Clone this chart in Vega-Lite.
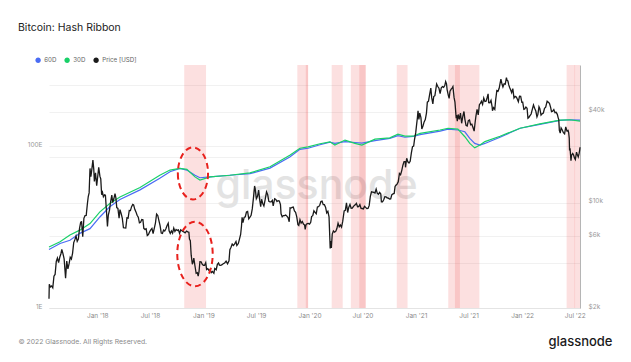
{
  "$schema": "https://vega.github.io/schema/vega-lite/v6.json",
  "width": 531,
  "height": 243,
  "autosize": {"type": "none"},
  "padding": {"left": 49, "top": 65, "right": 51, "bottom": 54},
  "background": "white",
  "config": {
    "view": {"stroke": null},
    "font": "Inter",
    "legend": {"padding": 0}
  },
  "title": {
    "text": "Bitcoin: Hash Ribbon",
    "anchor": "start",
    "frame": "group",
    "dx": -31,
    "dy": 14,
    "offset": 30,
    "baseline": "alphabetic",
    "fontSize": 10.5,
    "fontWeight": "normal",
    "color": "#222",
    "font": "Inter"
  },
  "datasets": {
    "bands": [
      {"date": "2018-10-27", "date_end": "2019-01-10"},
      {"date": "2019-11-20", "date_end": "2019-12-27"},
      {"date": "2019-12-19", "date_end": "2019-12-27"},
      {"date": "2020-03-17", "date_end": "2020-04-24"},
      {"date": "2020-05-22", "date_end": "2020-07-12"},
      {"date": "2020-06-20", "date_end": "2020-07-12"},
      {"date": "2020-10-27", "date_end": "2020-12-03"},
      {"date": "2021-04-22", "date_end": "2021-08-07"},
      {"date": "2021-05-15", "date_end": "2021-06-01"},
      {"date": "2022-06-03", "date_end": "2022-07-19"},
      {"date": "2022-06-30", "date_end": "2022-07-02"}
    ],
    "hash": [
      {"date": "2017-07-19", "series": "60D", "hash": 5.3},
      {"date": "2017-08-26", "series": "60D", "hash": 6.3},
      {"date": "2017-09-29", "series": "60D", "hash": 6.9},
      {"date": "2017-11-02", "series": "60D", "hash": 8.4},
      {"date": "2017-12-07", "series": "60D", "hash": 9.6},
      {"date": "2018-01-10", "series": "60D", "hash": 13.4},
      {"date": "2018-02-13", "series": "60D", "hash": 17.9},
      {"date": "2018-03-20", "series": "60D", "hash": 22},
      {"date": "2018-05-28", "series": "60D", "hash": 29},
      {"date": "2018-08-04", "series": "60D", "hash": 40.3},
      {"date": "2018-09-08", "series": "60D", "hash": 48.7},
      {"date": "2018-10-12", "series": "60D", "hash": 53.5},
      {"date": "2018-11-05", "series": "60D", "hash": 51},
      {"date": "2018-12-03", "series": "60D", "hash": 44},
      {"date": "2018-12-20", "series": "60D", "hash": 41},
      {"date": "2019-01-24", "series": "60D", "hash": 42},
      {"date": "2019-04-02", "series": "60D", "hash": 44},
      {"date": "2019-06-10", "series": "60D", "hash": 46},
      {"date": "2019-08-18", "series": "60D", "hash": 54},
      {"date": "2019-10-25", "series": "60D", "hash": 74},
      {"date": "2019-11-29", "series": "60D", "hash": 92},
      {"date": "2019-12-27", "series": "60D", "hash": 95},
      {"date": "2020-02-06", "series": "60D", "hash": 105},
      {"date": "2020-03-11", "series": "60D", "hash": 113},
      {"date": "2020-03-28", "series": "60D", "hash": 109},
      {"date": "2020-05-02", "series": "60D", "hash": 115},
      {"date": "2020-06-05", "series": "60D", "hash": 112},
      {"date": "2020-06-29", "series": "60D", "hash": 110},
      {"date": "2020-08-13", "series": "60D", "hash": 118},
      {"date": "2020-10-03", "series": "60D", "hash": 126},
      {"date": "2020-10-31", "series": "60D", "hash": 136},
      {"date": "2020-11-24", "series": "60D", "hash": 130},
      {"date": "2020-12-22", "series": "60D", "hash": 133},
      {"date": "2021-01-15", "series": "60D", "hash": 140},
      {"date": "2021-03-25", "series": "60D", "hash": 155},
      {"date": "2021-04-21", "series": "60D", "hash": 164},
      {"date": "2021-05-25", "series": "60D", "hash": 160},
      {"date": "2021-06-18", "series": "60D", "hash": 152},
      {"date": "2021-07-05", "series": "60D", "hash": 126},
      {"date": "2021-07-22", "series": "60D", "hash": 109},
      {"date": "2021-08-09", "series": "60D", "hash": 104},
      {"date": "2021-08-26", "series": "60D", "hash": 109},
      {"date": "2021-10-17", "series": "60D", "hash": 130},
      {"date": "2021-12-25", "series": "60D", "hash": 168},
      {"date": "2022-03-03", "series": "60D", "hash": 188},
      {"date": "2022-05-11", "series": "60D", "hash": 210},
      {"date": "2022-06-14", "series": "60D", "hash": 214},
      {"date": "2022-07-19", "series": "60D", "hash": 212},
      {"date": "2017-07-19", "series": "30D", "hash": 5.7},
      {"date": "2017-08-26", "series": "30D", "hash": 6.6},
      {"date": "2017-09-29", "series": "30D", "hash": 8.0},
      {"date": "2017-11-02", "series": "30D", "hash": 9.2},
      {"date": "2017-12-07", "series": "30D", "hash": 11.1},
      {"date": "2018-01-10", "series": "30D", "hash": 15.5},
      {"date": "2018-02-13", "series": "30D", "hash": 19.7},
      {"date": "2018-03-20", "series": "30D", "hash": 23.7},
      {"date": "2018-05-28", "series": "30D", "hash": 31},
      {"date": "2018-08-04", "series": "30D", "hash": 44},
      {"date": "2018-09-08", "series": "30D", "hash": 51},
      {"date": "2018-10-12", "series": "30D", "hash": 53.5},
      {"date": "2018-11-05", "series": "30D", "hash": 52},
      {"date": "2018-12-03", "series": "30D", "hash": 42},
      {"date": "2018-12-20", "series": "30D", "hash": 38.3},
      {"date": "2019-01-24", "series": "30D", "hash": 42},
      {"date": "2019-04-02", "series": "30D", "hash": 44},
      {"date": "2019-06-10", "series": "30D", "hash": 47},
      {"date": "2019-08-18", "series": "30D", "hash": 56},
      {"date": "2019-10-25", "series": "30D", "hash": 78},
      {"date": "2019-11-29", "series": "30D", "hash": 95},
      {"date": "2019-12-27", "series": "30D", "hash": 99},
      {"date": "2020-02-06", "series": "30D", "hash": 108},
      {"date": "2020-03-11", "series": "30D", "hash": 114},
      {"date": "2020-03-28", "series": "30D", "hash": 104},
      {"date": "2020-05-02", "series": "30D", "hash": 120},
      {"date": "2020-06-05", "series": "30D", "hash": 109},
      {"date": "2020-06-29", "series": "30D", "hash": 104},
      {"date": "2020-08-13", "series": "30D", "hash": 123},
      {"date": "2020-10-03", "series": "30D", "hash": 128},
      {"date": "2020-10-31", "series": "30D", "hash": 142},
      {"date": "2020-11-24", "series": "30D", "hash": 134},
      {"date": "2020-12-22", "series": "30D", "hash": 134},
      {"date": "2021-01-15", "series": "30D", "hash": 145},
      {"date": "2021-03-25", "series": "30D", "hash": 160},
      {"date": "2021-04-21", "series": "30D", "hash": 168},
      {"date": "2021-05-25", "series": "30D", "hash": 164},
      {"date": "2021-06-18", "series": "30D", "hash": 132},
      {"date": "2021-07-05", "series": "30D", "hash": 109},
      {"date": "2021-07-22", "series": "30D", "hash": 96},
      {"date": "2021-08-09", "series": "30D", "hash": 104},
      {"date": "2021-08-26", "series": "30D", "hash": 115},
      {"date": "2021-10-17", "series": "30D", "hash": 134},
      {"date": "2021-12-25", "series": "30D", "hash": 168},
      {"date": "2022-03-03", "series": "30D", "hash": 190},
      {"date": "2022-05-11", "series": "30D", "hash": 212},
      {"date": "2022-06-14", "series": "30D", "hash": 214},
      {"date": "2022-07-19", "series": "30D", "hash": 206}
    ],
    "price": [
      {"date":"2017-07-19","price":2300},{"date":"2017-07-20","price":2870},{"date":"2017-07-24","price":2760},{"date":"2017-07-28","price":2800},
      {"date":"2017-08-01","price":2720},{"date":"2017-08-05","price":3250},{"date":"2017-08-09","price":3340},{"date":"2017-08-13","price":4070},
      {"date":"2017-08-17","price":4290},{"date":"2017-08-21","price":4000},{"date":"2017-08-25","price":4340},{"date":"2017-08-29","price":4580},
      {"date":"2017-09-01","price":4890},{"date":"2017-09-05","price":4590},{"date":"2017-09-09","price":4230},{"date":"2017-09-14","price":3150},
      {"date":"2017-09-18","price":4090},{"date":"2017-09-22","price":3630},{"date":"2017-09-26","price":3920},{"date":"2017-09-30","price":4340},
      {"date":"2017-10-04","price":4220},{"date":"2017-10-08","price":4610},{"date":"2017-10-12","price":5430},{"date":"2017-10-16","price":5680},
      {"date":"2017-10-20","price":6010},{"date":"2017-10-24","price":5530},{"date":"2017-10-28","price":5730},{"date":"2017-11-01","price":6740},
      {"date":"2017-11-05","price":7410},{"date":"2017-11-08","price":7460},{"date":"2017-11-12","price":5950},{"date":"2017-11-16","price":7870},
      {"date":"2017-11-20","price":8200},{"date":"2017-11-24","price":8230},{"date":"2017-11-28","price":9820},{"date":"2017-12-01","price":10980},
      {"date":"2017-12-04","price":11600},{"date":"2017-12-07","price":16860},{"date":"2017-12-10","price":14870},{"date":"2017-12-13","price":16410},
      {"date":"2017-12-17","price":19140},{"date":"2017-12-20","price":16620},{"date":"2017-12-22","price":13830},{"date":"2017-12-26","price":15760},
      {"date":"2017-12-30","price":12950},{"date":"2018-01-03","price":15200},{"date":"2018-01-06","price":17170},{"date":"2018-01-10","price":14970},
      {"date":"2018-01-13","price":14360},{"date":"2018-01-16","price":11280},{"date":"2018-01-19","price":11680},{"date":"2018-01-22","price":10930},
      {"date":"2018-01-26","price":11260},{"date":"2018-01-29","price":11210},{"date":"2018-02-01","price":9170},{"date":"2018-02-05","price":6950},
      {"date":"2018-02-08","price":8270},{"date":"2018-02-12","price":8930},{"date":"2018-02-16","price":10170},{"date":"2018-02-20","price":11200},
      {"date":"2018-02-23","price":10010},{"date":"2018-02-27","price":10600},{"date":"2018-03-03","price":11460},{"date":"2018-03-06","price":10760},
      {"date":"2018-03-09","price":9270},{"date":"2018-03-13","price":9150},{"date":"2018-03-17","price":7880},{"date":"2018-03-20","price":8980},
      {"date":"2018-03-24","price":8470},{"date":"2018-03-28","price":7880},{"date":"2018-04-01","price":6810},{"date":"2018-04-05","price":6790},
      {"date":"2018-04-09","price":6780},{"date":"2018-04-13","price":7930},{"date":"2018-04-17","price":7880},{"date":"2018-04-21","price":8880},
      {"date":"2018-04-25","price":8850},{"date":"2018-04-29","price":9400},{"date":"2018-05-03","price":9730},{"date":"2018-05-06","price":9650},
      {"date":"2018-05-10","price":9020},{"date":"2018-05-14","price":8680},{"date":"2018-05-18","price":8240},{"date":"2018-05-22","price":8000},
      {"date":"2018-05-26","price":7350},{"date":"2018-05-30","price":7400},{"date":"2018-06-03","price":7720},{"date":"2018-06-07","price":7690},
      {"date":"2018-06-10","price":6750},{"date":"2018-06-14","price":6640},{"date":"2018-06-18","price":6700},{"date":"2018-06-22","price":6050},
      {"date":"2018-06-26","price":6140},{"date":"2018-06-30","price":6400},{"date":"2018-07-04","price":6600},{"date":"2018-07-08","price":6750},
      {"date":"2018-07-12","price":6240},{"date":"2018-07-16","price":6740},{"date":"2018-07-20","price":7320},{"date":"2018-07-24","price":8400},
      {"date":"2018-07-28","price":8220},{"date":"2018-08-01","price":7600},{"date":"2018-08-05","price":7030},{"date":"2018-08-09","price":6280},
      {"date":"2018-08-13","price":6250},{"date":"2018-08-17","price":6580},{"date":"2018-08-21","price":6480},{"date":"2018-08-25","price":6700},
      {"date":"2018-08-29","price":7050},{"date":"2018-09-02","price":7300},{"date":"2018-09-05","price":6500},{"date":"2018-09-09","price":6240},
      {"date":"2018-09-13","price":6490},{"date":"2018-09-17","price":6270},{"date":"2018-09-21","price":6770},{"date":"2018-09-25","price":6430},
      {"date":"2018-09-29","price":6630},{"date":"2018-10-03","price":6540},{"date":"2018-10-07","price":6600},{"date":"2018-10-11","price":6250},
      {"date":"2018-10-15","price":6600},{"date":"2018-10-20","price":6480},{"date":"2018-10-25","price":6400},{"date":"2018-10-30","price":6300},
      {"date":"2018-11-04","price":6480},{"date":"2018-11-08","price":6400},{"date":"2018-11-12","price":6370},{"date":"2018-11-14","price":5740},
      {"date":"2018-11-17","price":5600},{"date":"2018-11-19","price":4800},{"date":"2018-11-20","price":4480},{"date":"2018-11-24","price":3900},
      {"date":"2018-11-26","price":4000},{"date":"2018-11-29","price":4280},{"date":"2018-12-03","price":3800},{"date":"2018-12-07","price":3400},
      {"date":"2018-12-11","price":3430},{"date":"2018-12-14","price":3250},{"date":"2018-12-17","price":3500},{"date":"2018-12-20","price":4060},
      {"date":"2018-12-24","price":4050},{"date":"2018-12-28","price":3900},{"date":"2019-01-01","price":3840},{"date":"2019-01-05","price":3840},
      {"date":"2019-01-09","price":4000},{"date":"2019-01-12","price":3600},{"date":"2019-01-16","price":3650},{"date":"2019-01-20","price":3550},
      {"date":"2019-01-24","price":3590},{"date":"2019-01-28","price":3430},{"date":"2019-02-01","price":3490},{"date":"2019-02-06","price":3400},
      {"date":"2019-02-09","price":3660},{"date":"2019-02-14","price":3590},{"date":"2019-02-18","price":3900},{"date":"2019-02-22","price":3980},
      {"date":"2019-02-25","price":3850},{"date":"2019-03-01","price":3840},{"date":"2019-03-05","price":3860},{"date":"2019-03-10","price":3930},
      {"date":"2019-03-15","price":3980},{"date":"2019-03-20","price":4090},{"date":"2019-03-25","price":3930},{"date":"2019-03-30","price":4110},
      {"date":"2019-04-02","price":4880},{"date":"2019-04-06","price":5060},{"date":"2019-04-10","price":5310},{"date":"2019-04-14","price":5200},
      {"date":"2019-04-18","price":5310},{"date":"2019-04-23","price":5520},{"date":"2019-04-26","price":5200},{"date":"2019-05-01","price":5350},
      {"date":"2019-05-05","price":5730},{"date":"2019-05-09","price":6150},{"date":"2019-05-12","price":6990},{"date":"2019-05-14","price":7990},
      {"date":"2019-05-17","price":7360},{"date":"2019-05-21","price":7980},{"date":"2019-05-25","price":8060},{"date":"2019-05-29","price":8660},
      {"date":"2019-06-02","price":8740},{"date":"2019-06-06","price":7800},{"date":"2019-06-10","price":8000},{"date":"2019-06-14","price":8230},
      {"date":"2019-06-18","price":9080},{"date":"2019-06-22","price":10700},{"date":"2019-06-26","price":12900},{"date":"2019-06-28","price":12400},
      {"date":"2019-07-02","price":10600},{"date":"2019-07-06","price":11000},{"date":"2019-07-10","price":12100},{"date":"2019-07-14","price":10260},
      {"date":"2019-07-17","price":9400},{"date":"2019-07-20","price":10530},{"date":"2019-07-24","price":9880},{"date":"2019-07-28","price":9500},
      {"date":"2019-08-01","price":10400},{"date":"2019-08-06","price":11800},{"date":"2019-08-10","price":11300},{"date":"2019-08-14","price":10200},
      {"date":"2019-08-18","price":10100},{"date":"2019-08-22","price":10100},{"date":"2019-08-26","price":10350},{"date":"2019-08-29","price":9500},
      {"date":"2019-09-03","price":10610},{"date":"2019-09-07","price":10500},{"date":"2019-09-11","price":10160},{"date":"2019-09-15","price":10310},
      {"date":"2019-09-19","price":10250},{"date":"2019-09-23","price":9700},{"date":"2019-09-25","price":8430},{"date":"2019-09-29","price":8060},
      {"date":"2019-10-03","price":8200},{"date":"2019-10-07","price":8190},{"date":"2019-10-11","price":8270},{"date":"2019-10-15","price":8140},
      {"date":"2019-10-19","price":7950},{"date":"2019-10-23","price":7470},{"date":"2019-10-26","price":9230},{"date":"2019-10-29","price":9200},
      {"date":"2019-11-02","price":9300},{"date":"2019-11-06","price":9340},{"date":"2019-11-10","price":8800},{"date":"2019-11-14","price":8620},
      {"date":"2019-11-18","price":8050},{"date":"2019-11-22","price":7150},{"date":"2019-11-25","price":7050},{"date":"2019-11-29","price":7700},
      {"date":"2019-12-03","price":7320},{"date":"2019-12-07","price":7500},{"date":"2019-12-11","price":7200},{"date":"2019-12-15","price":7100},
      {"date":"2019-12-17","price":6640},{"date":"2019-12-20","price":7150},{"date":"2019-12-24","price":7250},{"date":"2019-12-28","price":7280},
      {"date":"2020-01-01","price":7200},{"date":"2020-01-05","price":7400},{"date":"2020-01-08","price":8080},{"date":"2020-01-12","price":8190},
      {"date":"2020-01-16","price":8820},{"date":"2020-01-20","price":8620},{"date":"2020-01-24","price":8430},{"date":"2020-01-28","price":9360},
      {"date":"2020-02-01","price":9390},{"date":"2020-02-05","price":9600},{"date":"2020-02-09","price":10160},{"date":"2020-02-13","price":10240},
      {"date":"2020-02-17","price":9700},{"date":"2020-02-21","price":9690},{"date":"2020-02-25","price":9320},{"date":"2020-02-29","price":8540},
      {"date":"2020-03-04","price":8760},{"date":"2020-03-08","price":8040},{"date":"2020-03-12","price":4970},{"date":"2020-03-13","price":5560},
      {"date":"2020-03-16","price":5000},{"date":"2020-03-19","price":6190},{"date":"2020-03-23","price":6490},{"date":"2020-03-27","price":6370},
      {"date":"2020-03-31","price":6440},{"date":"2020-04-04","price":6730},{"date":"2020-04-08","price":7300},{"date":"2020-04-12","price":6910},
      {"date":"2020-04-16","price":7100},{"date":"2020-04-20","price":6880},{"date":"2020-04-24","price":7500},{"date":"2020-04-29","price":8800},
      {"date":"2020-05-03","price":8900},{"date":"2020-05-07","price":9950},{"date":"2020-05-11","price":8600},{"date":"2020-05-15","price":9320},
      {"date":"2020-05-19","price":9730},{"date":"2020-05-23","price":9180},{"date":"2020-05-27","price":9200},{"date":"2020-05-31","price":9450},
      {"date":"2020-06-02","price":9520},{"date":"2020-06-06","price":9670},{"date":"2020-06-10","price":9890},{"date":"2020-06-14","price":9390},
      {"date":"2020-06-18","price":9410},{"date":"2020-06-22","price":9690},{"date":"2020-06-26","price":9150},{"date":"2020-06-30","price":9140},
      {"date":"2020-07-04","price":9090},{"date":"2020-07-08","price":9440},{"date":"2020-07-12","price":9300},{"date":"2020-07-16","price":9130},
      {"date":"2020-07-20","price":9160},{"date":"2020-07-24","price":9550},{"date":"2020-07-28","price":10990},{"date":"2020-08-01","price":11800},
      {"date":"2020-08-05","price":11750},{"date":"2020-08-09","price":11680},{"date":"2020-08-13","price":11580},{"date":"2020-08-17","price":12290},
      {"date":"2020-08-21","price":11520},{"date":"2020-08-25","price":11370},{"date":"2020-08-29","price":11680},{"date":"2020-09-02","price":11400},
      {"date":"2020-09-04","price":10130},{"date":"2020-09-08","price":10130},{"date":"2020-09-12","price":10440},{"date":"2020-09-16","price":10950},
      {"date":"2020-09-20","price":10920},{"date":"2020-09-24","price":10750},{"date":"2020-09-28","price":10700},{"date":"2020-10-02","price":10570},
      {"date":"2020-10-06","price":10600},{"date":"2020-10-10","price":11300},{"date":"2020-10-14","price":11430},{"date":"2020-10-18","price":11500},
      {"date":"2020-10-21","price":12800},{"date":"2020-10-24","price":13030},{"date":"2020-10-28","price":13270},{"date":"2020-11-01","price":13740},
      {"date":"2020-11-05","price":15590},{"date":"2020-11-09","price":15300},{"date":"2020-11-13","price":16300},{"date":"2020-11-17","price":17700},
      {"date":"2020-11-21","price":18700},{"date":"2020-11-25","price":18730},{"date":"2020-11-26","price":17150},{"date":"2020-11-30","price":19700},
      {"date":"2020-12-04","price":18650},{"date":"2020-12-08","price":18320},{"date":"2020-12-12","price":18800},{"date":"2020-12-16","price":21300},
      {"date":"2020-12-20","price":23480},{"date":"2020-12-24","price":23710},{"date":"2020-12-27","price":26280},{"date":"2020-12-31","price":28990},
      {"date":"2021-01-03","price":32780},{"date":"2021-01-06","price":36770},{"date":"2021-01-08","price":40580},{"date":"2021-01-11","price":35570},
      {"date":"2021-01-14","price":39190},{"date":"2021-01-18","price":36640},{"date":"2021-01-21","price":30830},{"date":"2021-01-25","price":32260},
      {"date":"2021-01-29","price":34320},{"date":"2021-02-02","price":35500},{"date":"2021-02-06","price":39270},{"date":"2021-02-09","price":46370},
      {"date":"2021-02-13","price":47100},{"date":"2021-02-17","price":52150},{"date":"2021-02-21","price":57500},{"date":"2021-02-24","price":49700},
      {"date":"2021-02-28","price":45140},{"date":"2021-03-03","price":50540},{"date":"2021-03-07","price":51200},{"date":"2021-03-10","price":55960},
      {"date":"2021-03-13","price":61190},{"date":"2021-03-17","price":58900},{"date":"2021-03-21","price":57350},{"date":"2021-03-25","price":52800},
      {"date":"2021-03-29","price":57750},{"date":"2021-04-02","price":58800},{"date":"2021-04-06","price":58100},{"date":"2021-04-10","price":59790},
      {"date":"2021-04-13","price":63500},{"date":"2021-04-16","price":61340},{"date":"2021-04-18","price":56200},{"date":"2021-04-22","price":51700},
      {"date":"2021-04-25","price":49100},{"date":"2021-04-28","price":54800},{"date":"2021-05-02","price":56600},{"date":"2021-05-05","price":57480},
      {"date":"2021-05-08","price":58800},{"date":"2021-05-12","price":49700},{"date":"2021-05-15","price":46400},{"date":"2021-05-19","price":37000},
      {"date":"2021-05-21","price":37330},{"date":"2021-05-23","price":34700},{"date":"2021-05-26","price":38400},{"date":"2021-05-30","price":35700},
      {"date":"2021-06-03","price":39200},{"date":"2021-06-07","price":33580},{"date":"2021-06-11","price":37340},{"date":"2021-06-15","price":40200},
      {"date":"2021-06-18","price":35800},{"date":"2021-06-22","price":32500},{"date":"2021-06-26","price":32200},{"date":"2021-06-30","price":35000},
      {"date":"2021-07-04","price":35300},{"date":"2021-07-08","price":32800},{"date":"2021-07-12","price":33100},{"date":"2021-07-16","price":31500},
      {"date":"2021-07-20","price":29790},{"date":"2021-07-23","price":33600},{"date":"2021-07-26","price":37300},{"date":"2021-07-30","price":41500},
      {"date":"2021-08-03","price":38150},{"date":"2021-08-07","price":44600},{"date":"2021-08-11","price":45600},{"date":"2021-08-14","price":47000},
      {"date":"2021-08-18","price":44800},{"date":"2021-08-22","price":49300},{"date":"2021-08-26","price":46800},{"date":"2021-08-30","price":47000},
      {"date":"2021-09-03","price":50000},{"date":"2021-09-06","price":52700},{"date":"2021-09-08","price":46100},{"date":"2021-09-12","price":46000},
      {"date":"2021-09-16","price":47700},{"date":"2021-09-20","price":43000},{"date":"2021-09-21","price":40700},{"date":"2021-09-25","price":42700},
      {"date":"2021-09-29","price":41600},{"date":"2021-10-02","price":48000},{"date":"2021-10-06","price":55300},{"date":"2021-10-10","price":54700},
      {"date":"2021-10-14","price":57300},{"date":"2021-10-17","price":61500},{"date":"2021-10-20","price":65990},{"date":"2021-10-24","price":60900},
      {"date":"2021-10-27","price":58400},{"date":"2021-10-31","price":61300},{"date":"2021-11-04","price":61000},{"date":"2021-11-08","price":67550},
      {"date":"2021-11-10","price":64950},{"date":"2021-11-13","price":64150},{"date":"2021-11-16","price":60350},{"date":"2021-11-19","price":58100},
      {"date":"2021-11-22","price":56300},{"date":"2021-11-26","price":53600},{"date":"2021-11-30","price":57000},{"date":"2021-12-04","price":49400},
      {"date":"2021-12-08","price":50600},{"date":"2021-12-12","price":50100},{"date":"2021-12-15","price":48900},{"date":"2021-12-19","price":46700},
      {"date":"2021-12-23","price":50800},{"date":"2021-12-27","price":50700},{"date":"2021-12-31","price":46300},{"date":"2022-01-03","price":46400},
      {"date":"2022-01-07","price":41600},{"date":"2022-01-10","price":41800},{"date":"2022-01-14","price":43100},{"date":"2022-01-18","price":42300},
      {"date":"2022-01-21","price":36300},{"date":"2022-01-24","price":36700},{"date":"2022-01-28","price":37700},{"date":"2022-02-01","price":38700},
      {"date":"2022-02-05","price":41500},{"date":"2022-02-09","price":44400},{"date":"2022-02-13","price":42200},{"date":"2022-02-17","price":40500},
      {"date":"2022-02-21","price":37000},{"date":"2022-02-24","price":38300},{"date":"2022-02-28","price":43200},{"date":"2022-03-03","price":42000},
      {"date":"2022-03-07","price":38100},{"date":"2022-03-11","price":38800},{"date":"2022-03-15","price":39300},{"date":"2022-03-19","price":42200},
      {"date":"2022-03-23","price":42900},{"date":"2022-03-28","price":47100},{"date":"2022-04-01","price":46300},{"date":"2022-04-05","price":45500},
      {"date":"2022-04-09","price":42800},{"date":"2022-04-12","price":40100},{"date":"2022-04-16","price":40400},{"date":"2022-04-20","price":41400},
      {"date":"2022-04-24","price":39500},{"date":"2022-04-28","price":39700},{"date":"2022-05-02","price":38500},{"date":"2022-05-05","price":36500},
      {"date":"2022-05-07","price":35500},{"date":"2022-05-09","price":30100},{"date":"2022-05-12","price":28900},{"date":"2022-05-15","price":31300},
      {"date":"2022-05-19","price":30300},{"date":"2022-05-23","price":29100},{"date":"2022-05-27","price":28600},{"date":"2022-05-31","price":31800},
      {"date":"2022-06-04","price":29900},{"date":"2022-06-08","price":30100},{"date":"2022-06-10","price":29100},{"date":"2022-06-12","price":26800},
      {"date":"2022-06-13","price":22500},{"date":"2022-06-15","price":22600},{"date":"2022-06-18","price":19000},{"date":"2022-06-20","price":20600},
      {"date":"2022-06-24","price":21200},{"date":"2022-06-27","price":20700},{"date":"2022-06-30","price":19800},{"date":"2022-07-03","price":19300},
      {"date":"2022-07-07","price":21600},{"date":"2022-07-10","price":20800},{"date":"2022-07-13","price":20100},{"date":"2022-07-16","price":21200},
      {"date":"2022-07-18","price":22400},{"date":"2022-07-19","price":23300}
    ],
    "mark1": [{"date": "2018-11-26", "hash": 46.4}],
    "mark2": [{"date": "2018-12-03", "price": 4560}]
  },
  "encoding": {
    "x": {
      "field": "date",
      "type": "temporal",
      "scale": {"domain": [{"year": 2017, "month": 7, "date": 19, "utc": true}, {"year": 2022, "month": 7, "date": 19, "utc": true}], "nice": false},
      "axis": {
        "values": [
          {"year": 2018, "month": 1, "date": 1, "utc": true},
          {"year": 2018, "month": 7, "date": 1, "utc": true},
          {"year": 2019, "month": 1, "date": 1, "utc": true},
          {"year": 2019, "month": 7, "date": 1, "utc": true},
          {"year": 2020, "month": 1, "date": 1, "utc": true},
          {"year": 2020, "month": 7, "date": 1, "utc": true},
          {"year": 2021, "month": 1, "date": 1, "utc": true},
          {"year": 2021, "month": 7, "date": 1, "utc": true},
          {"year": 2022, "month": 1, "date": 1, "utc": true},
          {"year": 2022, "month": 7, "date": 1, "utc": true}
        ],
        "labelExpr": "utcFormat(datum.value, \"%b '%y\")",
        "labelFontSize": 6.5,
        "labelColor": "#8a8a8a",
        "labelPadding": 4,
        "labelFlush": false,
        "ticks": false,
        "grid": false,
        "domainColor": "#e4e4e4",
        "title": "© 2022 Glassnode. All Rights Reserved.",
        "titleX": -31,
        "titleY": 35,
        "titleAlign": "left",
        "titleBaseline": "alphabetic",
        "titleFontSize": 6.8,
        "titleFontWeight": "normal",
        "titleColor": "#8a8a8a"
      }
    }
  },
  "layer": [
    {
      "data": {"name": "bands"},
      "mark": {"type": "rect", "color": "#f04848", "opacity": 0.17},
      "encoding": {"x2": {"field": "date_end"}}
    },
    {
      "layer": [
        {
          "data": {"name": "hash"},
          "mark": {"type": "line", "strokeWidth": 1.2},
          "encoding": {
            "y": {
              "field": "hash",
              "type": "quantitative",
              "scale": {"type": "log", "domain": [1, 1020], "nice": false},
              "axis": {
                "orient": "left",
                "values": [1, 100],
                "labelExpr": "datum.value + 'E'",
                "labelFontSize": 6.5,
                "labelColor": "#999",
                "labelPadding": 7,
                "labelBaseline": "alphabetic",
                "ticks": false,
                "domain": false,
                "grid": true,
                "gridColor": "#f1f1f1",
                "title": "glassnode",
                "titleAngle": 0,
                "titleX": 267,
                "titleY": 133,
                "titleAlign": "center",
                "titleBaseline": "alphabetic",
                "titleFontSize": 41,
                "titleFontWeight": 500,
                "titleColor": "#e3e3e3"
              }
            },
            "color": {
              "field": "series",
              "type": "nominal",
              "scale": {"domain": ["60D", "30D", "Price [USD]"], "range": ["#4a6cf4", "#18d068", "#1a1a1a"]},
              "legend": {
                "orient": "none",
                "legendX": -14,
                "legendY": -8,
                "direction": "horizontal",
                "title": null,
                "symbolType": "circle",
                "symbolSize": 8,
                "symbolStrokeWidth": 2.6,
                "labelFontSize": 6.2,
                "labelColor": "#666",
                "labelOffset": 3,
                "columnPadding": 3
              }
            }
          }
        },
        {
          "data": {"name": "mark1"},
          "mark": {
            "type": "point",
            "shape": "M -0.58 0 A 0.58 1 0 1 0 0.58 0 A 0.58 1 0 1 0 -0.58 0 Z",
            "size": 2704,
            "filled": false,
            "stroke": "#e8211d",
            "strokeWidth": 2,
            "strokeDash": [6, 4],
            "opacity": 1
          },
          "encoding": {"y": {"field": "hash", "type": "quantitative"}}
        }
      ]
    },
    {
      "layer": [
        {
          "data": {"name": "price"},
          "mark": {"type": "line", "strokeWidth": 1.3},
          "encoding": {
            "y": {
              "field": "price",
              "type": "quantitative",
              "scale": {"type": "log", "domain": [2000, 81800], "nice": false},
              "axis": {
                "orient": "right",
                "values": [2000, 4000, 6000, 8000, 10000, 20000, 40000, 60000],
                "labelExpr": "indexof([2000, 6000, 10000, 40000], datum.value) >= 0 ? '$' + (datum.value / 1000) + 'k' : ''",
                "labelFontSize": 6.5,
                "labelColor": "#999",
                "labelPadding": 8,
                "labelBaseline": "alphabetic",
                "ticks": false,
                "domain": true,
                "domainColor": "#b5b5b5",
                "grid": true,
                "gridColor": "#f1f1f1",
                "title": "glassnode",
                "titleAngle": 0,
                "titleX": 32,
                "titleY": 280,
                "titleAlign": "right",
                "titleBaseline": "alphabetic",
                "titleFontSize": 13,
                "titleFontWeight": 500,
                "titleColor": "#1a1a1a"
              }
            },
            "color": {"datum": "Price [USD]", "type": "nominal"}
          }
        },
        {
          "data": {"name": "mark2"},
          "mark": {
            "type": "point",
            "shape": "M -0.55 0 A 0.55 1 0 1 0 0.55 0 A 0.55 1 0 1 0 -0.55 0 Z",
            "size": 4147,
            "filled": false,
            "stroke": "#e8211d",
            "strokeWidth": 2,
            "strokeDash": [6, 4],
            "opacity": 1
          },
          "encoding": {"y": {"field": "price", "type": "quantitative"}}
        }
      ]
    }
  ],
  "resolve": {"scale": {"y": "independent"}}
}
